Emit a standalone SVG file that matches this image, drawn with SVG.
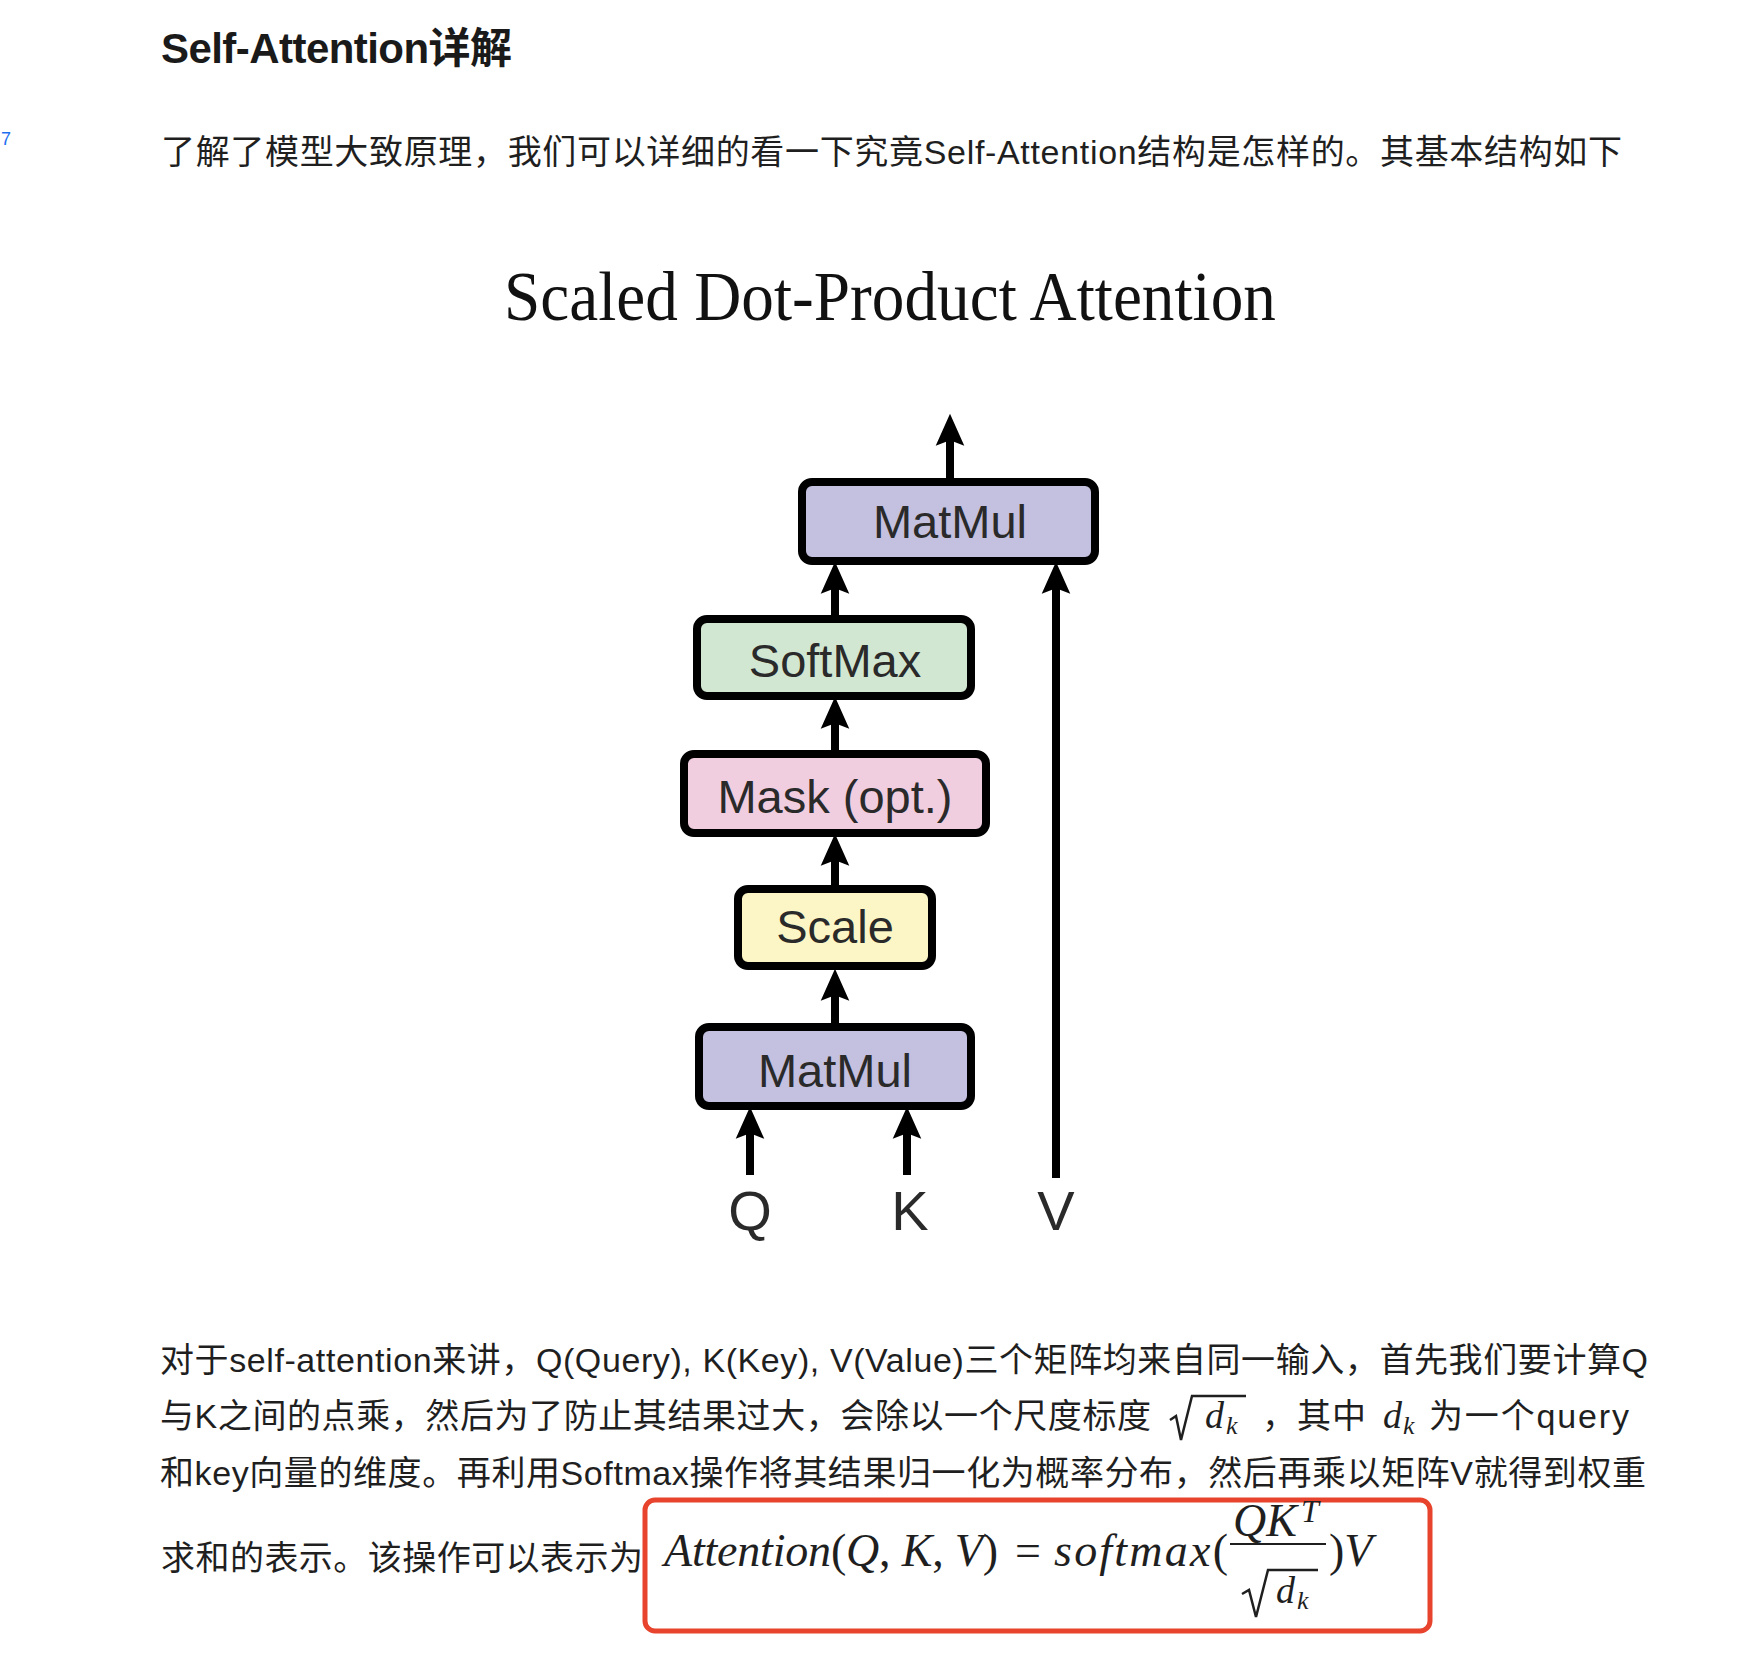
<svg xmlns="http://www.w3.org/2000/svg" width="1758" height="1658" viewBox="0 0 1758 1658">
<style>
.body{font-family:"Liberation Sans","Noto Sans CJK SC",sans-serif;font-size:34px;fill:#1f1f1f}
.head{font-family:"Liberation Sans","Noto Sans CJK SC",sans-serif;font-size:42px;font-weight:bold;fill:#1a1a1a}
.title{font-family:"Liberation Serif",serif;font-size:70px;fill:#111}
.lbl{font-family:"Liberation Sans",sans-serif;font-size:47px;fill:#2a2a2a;text-anchor:middle}
.io{font-family:"Liberation Sans",sans-serif;font-size:56px;fill:#2a2a2a;text-anchor:middle}
.box{stroke:#000;stroke-width:8}
.conn{stroke:#000;stroke-width:8;fill:none}
.math{font-family:"Liberation Serif",serif;fill:#1f1f1f}
.it{font-style:italic}
.rad{fill:none;stroke:#1f1f1f;stroke-linejoin:miter}
</style>
<defs>
<marker id="ah" markerUnits="userSpaceOnUse" markerWidth="40" markerHeight="40" viewBox="-10 -15 35 30" refX="0" refY="0" orient="auto">
<path d="M22,0 L-6,-12.5 L-1,0 L-6,12.5 Z" fill="#000"/>
</marker>
</defs>
<rect width="1758" height="1658" fill="#fff"/>

<text x="1" y="145" font-family="Liberation Sans,sans-serif" font-size="18" fill="#1e6ff0">7</text>

<text class="head" x="161" y="63" textLength="351">Self-Attention详解</text>
<text class="body" x="161" y="164" textLength="1461">了解了模型大致原理，我们可以详细的看一下究竟Self-Attention结构是怎样的。其基本结构如下</text>

<text class="title" x="504" y="320" textLength="772" lengthAdjust="spacingAndGlyphs">Scaled Dot-Product Attention</text>

<g id="connectors">
<line class="conn" x1="950" y1="482" x2="950" y2="439" marker-end="url(#ah)"/>
<line class="conn" x1="835" y1="619" x2="835" y2="587" marker-end="url(#ah)"/>
<line class="conn" x1="835" y1="754" x2="835" y2="722" marker-end="url(#ah)"/>
<line class="conn" x1="835" y1="889" x2="835" y2="859" marker-end="url(#ah)"/>
<line class="conn" x1="835" y1="1027" x2="835" y2="994" marker-end="url(#ah)"/>
<line class="conn" x1="750" y1="1175" x2="750" y2="1132" marker-end="url(#ah)"/>
<line class="conn" x1="907" y1="1175" x2="907" y2="1132" marker-end="url(#ah)"/>
<line class="conn" x1="1056" y1="1178" x2="1056" y2="587" marker-end="url(#ah)"/>
</g>

<g id="matmul-top">
<rect class="box" x="802" y="482" width="293" height="79" rx="10" fill="#c4c0e0"/>
<text class="lbl" x="950" y="538">MatMul</text>
</g>
<g id="softmax">
<rect class="box" x="697" y="619" width="274" height="77" rx="10" fill="#d2e7d2"/>
<text class="lbl" x="835" y="677">SoftMax</text>
</g>
<g id="mask">
<rect class="box" x="684" y="754" width="302" height="79" rx="10" fill="#f1cde0"/>
<text class="lbl" x="835" y="813">Mask (opt.)</text>
</g>
<g id="scale">
<rect class="box" x="738" y="889" width="194" height="77" rx="10" fill="#fcf6c6"/>
<text class="lbl" x="835" y="943">Scale</text>
</g>
<g id="matmul-bottom">
<rect class="box" x="699" y="1027" width="272" height="79" rx="10" fill="#c4c0e0"/>
<text class="lbl" x="835" y="1087">MatMul</text>
</g>
<g id="input-q"><text class="io" x="750" y="1230">Q</text></g>
<g id="input-k"><text class="io" x="910" y="1230">K</text></g>
<g id="input-v"><text class="io" x="1056" y="1230">V</text></g>

<text class="body" x="160" y="1372" textLength="1488">对于self-attention来讲，Q(Query), K(Key), V(Value)三个矩阵均来自同一输入，首先我们要计算Q</text>
<text class="body" x="160" y="1428" textLength="991">与K之间的点乘，然后为了防止其结果过大，会除以一个尺度标度</text>
<polyline class="rad" stroke-width="2.5" points="1170,1420 1176,1416 1181,1440 1192,1396 1246,1396"/>
<text class="math it" x="1205" y="1428" font-size="38">d</text>
<text class="math it" x="1226" y="1434" font-size="26">k</text>
<text class="body" x="1262" y="1428">，</text>
<text class="body" x="1297" y="1428" textLength="69">其中</text>
<text class="math it" x="1383" y="1428" font-size="38">d</text>
<text class="math it" x="1403" y="1434" font-size="26">k</text>
<text class="body" x="1429" y="1428" textLength="200">为一个query</text>
<text class="body" x="160" y="1485" textLength="1486">和key向量的维度。再利用Softmax操作将其结果归一化为概率分布，然后再乘以矩阵V就得到权重</text>
<text class="body" x="161" y="1570" textLength="482">求和的表示。该操作可以表示为</text>

<rect x="645" y="1500" width="785" height="131" rx="10" fill="none" stroke="#e8432d" stroke-width="5"/>
<text class="math" x="664" y="1566" font-size="46" textLength="334"><tspan class="it">Attention</tspan>(<tspan class="it">Q</tspan>, <tspan class="it">K</tspan>, <tspan class="it">V</tspan>)</text>
<text class="math" x="1015" y="1566" font-size="46">=</text>
<text class="math" x="1054" y="1566" font-size="46" textLength="174"><tspan class="it">softmax</tspan>(</text>
<text class="math it" x="1233" y="1536" font-size="46">QK</text>
<text class="math it" x="1301" y="1522" font-size="32">T</text>
<line x1="1230" y1="1544" x2="1326" y2="1544" stroke="#1f1f1f" stroke-width="2"/>
<polyline class="rad" stroke-width="2.5" points="1242,1594 1249,1590 1256,1617 1268,1570 1318,1570"/>
<text class="math it" x="1276" y="1603" font-size="38">d</text>
<text class="math it" x="1297" y="1609" font-size="26">k</text>
<text class="math" x="1329" y="1566" font-size="46">)<tspan class="it">V</tspan></text>
</svg>
